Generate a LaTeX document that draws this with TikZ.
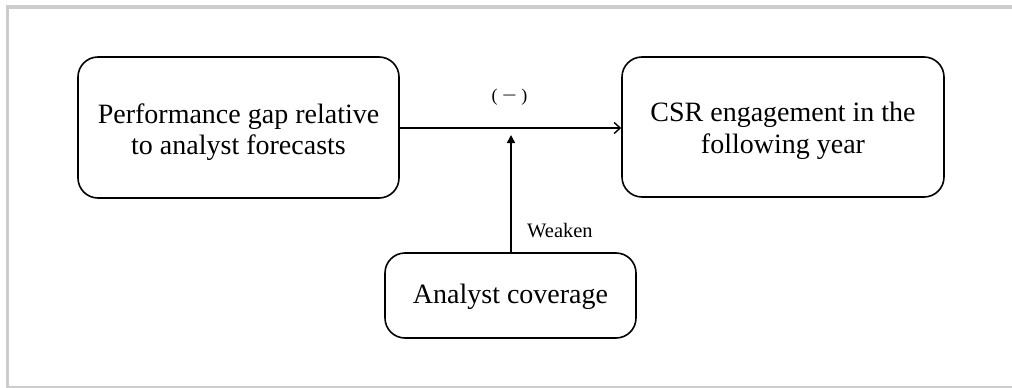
\documentclass[tikz,border=0pt]{standalone}
\usepackage{fontspec}
\usepackage{graphicx}
\setmainfont{Liberation Serif}
\usetikzlibrary{arrows.meta}
\definecolor{framegrey}{HTML}{CCCCCC}
\begin{document}
\begin{tikzpicture}[x=1pt,y=-1pt,
  box/.style={draw=black,line width=1.6pt,rounded corners=20pt},
  boxtext/.style={align=center,font=\fontsize{28}{31.5}\selectfont,inner sep=0pt},
  lab/.style={font=\fontsize{20.5}{24}\selectfont,inner sep=0pt},
  conn/.style={line width=1.6pt}]
\useasboundingbox (0,0) rectangle (1012,388);
\draw[framegrey,line width=3.5pt] (1020,7) -- (7.5,7) -- (7.5,388) -- (1020,388);
\node[box,minimum width=321pt,minimum height=141pt] (gap) at (238.5,127.5) {};
\node[boxtext] (gaptxt) at (238.5,132) {Performance gap relative\\to analyst forecasts};
\node[box,minimum width=322pt,minimum height=140pt] (csr) at (783,127) {};
\node[boxtext] (csrtxt) at (783,131) {CSR engagement in the\\following year};
\node[box,minimum width=251pt,minimum height=85pt] (cov) at (510.5,295.5) {};
\node[boxtext] (covtxt) at (510.5,297) {Analyst coverage};
\coordinate (mid) at (511,135);
\draw[conn,-{Straight Barb[length=6pt,width=11pt,line width=1.4pt]}] (gap.east |- 0,128) -- (csr.west |- 0,128);
\draw[conn,-{Triangle[length=8pt,width=8pt]}] (cov.north -| mid) -- (mid);
\node[font=\fontsize{18}{22}\selectfont,inner sep=0pt] (neg) at (509.5,97) {( \scalebox{1.45}[1]{−} )};
\node[lab,anchor=west] (weak) at (527,231) {Weaken};
\end{tikzpicture}
\end{document}
